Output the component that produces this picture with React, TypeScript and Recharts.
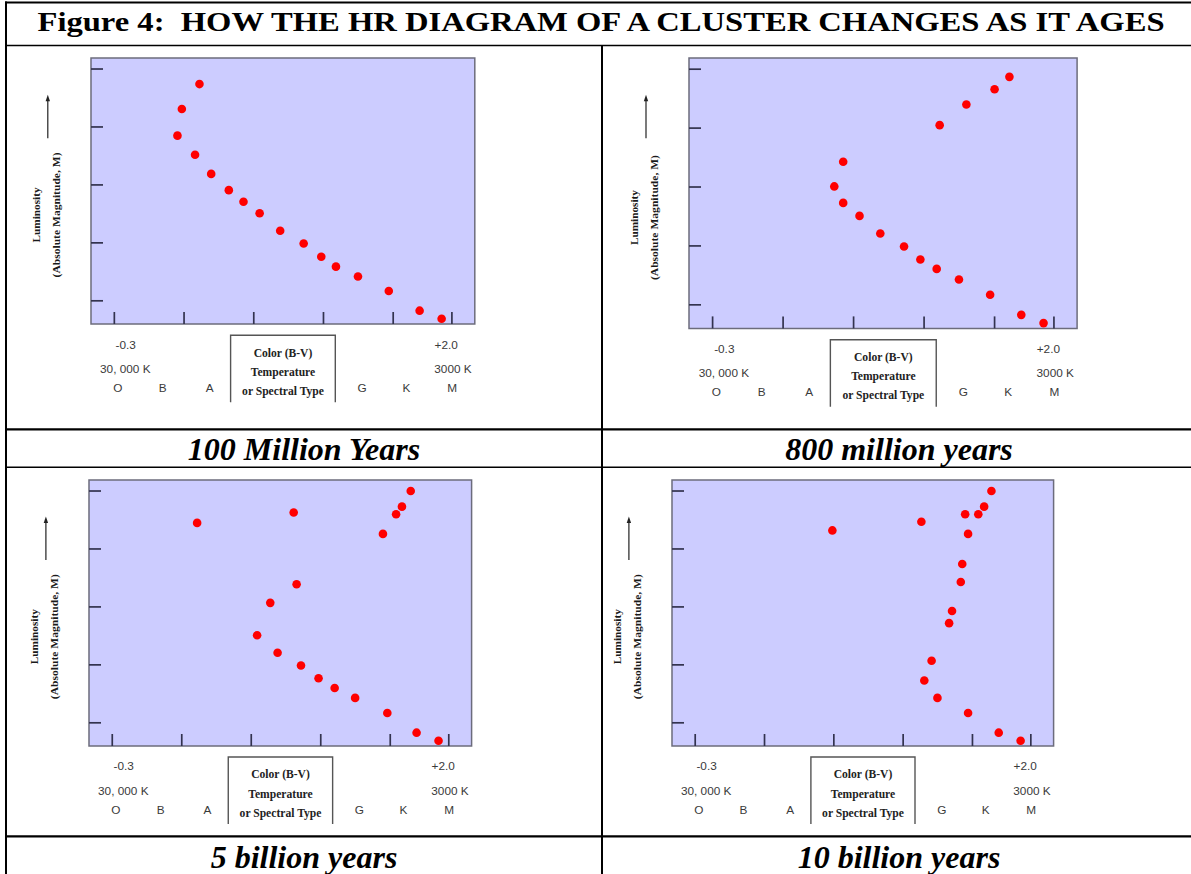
import React from 'react';
import { ScatterChart, Scatter, XAxis, YAxis, CartesianGrid, ReferenceArea } from 'recharts';

// ---------- data ----------
const colorTicks = [-0.3, 0.175, 0.65, 1.125, 1.6, 2.0];
const lumTicks = [0, 1, 2, 3, 4];
const X_DOMAIN: [number, number] = [-0.459, 2.156];
const Y_DOMAIN: [number, number] = [-0.4, 4.19];

const spectralTypes = ['O', 'B', 'A', 'G', 'K', 'M'];
const captions = ['100 Million Years', '800 million years', '5 billion years', '10 billion years'];

const bv100Myr = [0.28, 0.16, 0.13, 0.25, 0.36, 0.48, 0.58, 0.69, 0.83, 0.99, 1.11, 1.21, 1.36, 1.57, 1.78, 1.93];
const lum100Myr = [3.74, 3.31, 2.85, 2.52, 2.19, 1.91, 1.71, 1.51, 1.21, 0.99, 0.76, 0.59, 0.42, 0.17, -0.17, -0.31];

const bv800Myr = [1.7, 1.6, 1.41, 1.23, 0.58, 0.52, 0.58, 0.69, 0.83, 0.99, 1.1, 1.21, 1.36, 1.57, 1.78, 1.93];
const lum800Myr = [3.87, 3.66, 3.4, 3.05, 2.43, 2.01, 1.73, 1.51, 1.21, 0.99, 0.77, 0.61, 0.43, 0.17, -0.17, -0.31];

const bv5Gyr = [1.74, 1.68, 1.64, 1.55, 0.94, 0.28, 0.96, 0.78, 0.69, 0.83, 0.99, 1.11, 1.22, 1.36, 1.58, 1.78, 1.93];
const lum5Gyr = [4.0, 3.73, 3.6, 3.26, 3.63, 3.45, 2.39, 2.07, 1.51, 1.21, 0.99, 0.77, 0.6, 0.43, 0.17, -0.17, -0.31];

const bv10Gyr = [1.73, 1.68, 1.64, 1.55, 1.25, 0.64, 1.57, 1.53, 1.52, 1.46, 1.44, 1.32, 1.27, 1.36, 1.57, 1.78, 1.93];
const lum10Gyr = [4.0, 3.73, 3.6, 3.6, 3.47, 3.32, 3.26, 2.74, 2.43, 1.93, 1.72, 1.07, 0.73, 0.43, 0.17, -0.17, -0.31];

// ---------- style / layout ----------
const PLOT_BG = '#CCCCFF';
const FRAME = '#6c6c7c';
const TICK = '#33334f';
const DOT = '#FF0000';
const LABEL = '#3a3a3a';
const SERIF = '"Liberation Serif", "Times New Roman", serif';
const SANS = '"Liberation Sans", Arial, sans-serif';

type Rect = { L: number; T: number; W: number; H: number };
const panelRects: Rect[] = [
  { L: 90.7, T: 58.3, W: 383.8, H: 266 },
  { L: 688.9, T: 58.3, W: 388.1, H: 270.4 },
  { L: 88.8, T: 480, W: 382.6, H: 266 },
  { L: 671.8, T: 480, W: 381.6, H: 266 },
];
const spectralOffsets = [27.2, 72, 119, 271.5, 315.7, 361.4];
const M = 6;

const toPoints = (bv: number[], lum: number[]) => bv.map((b, i) => ({ bv: b, lum: lum[i] }));
const panelData = [
  toPoints(bv100Myr, lum100Myr),
  toPoints(bv800Myr, lum800Myr),
  toPoints(bv5Gyr, lum5Gyr),
  toPoints(bv10Gyr, lum10Gyr),
];

const renderDot = (p: any) => <circle cx={p.cx} cy={p.cy} r={4.3} fill={DOT} />;
const renderNoLabel = () => <g />;

function HRChart({ rect, data }: { rect: Rect; data: { bv: number; lum: number }[] }) {
  return (
    <div style={{ position: 'absolute', left: rect.L - M, top: rect.T - M }}>
      <ScatterChart width={rect.W + 2 * M} height={rect.H + 2 * M} margin={{ top: M, right: M, bottom: M, left: M }}>
        <CartesianGrid fill={PLOT_BG} fillOpacity={1} horizontal={false} vertical={false} stroke="none" />
        <XAxis
          type="number"
          dataKey="bv"
          domain={X_DOMAIN}
          ticks={colorTicks}
          allowDataOverflow
          mirror
          interval={0}
          tick={renderNoLabel}
          tickSize={12}
          axisLine={false}
          tickLine={{ stroke: TICK, strokeWidth: 1.7 }}
        />
        <YAxis
          type="number"
          dataKey="lum"
          domain={Y_DOMAIN}
          ticks={lumTicks}
          allowDataOverflow
          mirror
          interval={0}
          tick={renderNoLabel}
          tickSize={12}
          axisLine={false}
          tickLine={{ stroke: TICK, strokeWidth: 1.7 }}
        />
        <ReferenceArea
          x1={X_DOMAIN[0]}
          x2={X_DOMAIN[1]}
          y1={Y_DOMAIN[0]}
          y2={Y_DOMAIN[1]}
          fill="none"
          fillOpacity={0}
          stroke={FRAME}
          strokeWidth={1.5}
          ifOverflow="visible"
        />
        <Scatter data={data} isAnimationActive={false} shape={renderDot} />
      </ScatterChart>
    </div>
  );
}

function PanelLabels({ rect }: { rect: Rect }) {
  const { L, T, W, H } = rect;
  const B = T + H;
  const s = W / 383.8;
  const X = (o: number) => L + o * s;
  const cy = T + 0.589 * H;
  const ax = L - 42.9;
  return (
    <g>
      {/* y-axis title */}
      <text
        transform={`translate(${L - 50.9},${cy}) rotate(-90)`}
        textAnchor="middle"
        fontFamily={SERIF}
        fontWeight="bold"
        fontSize={10.5}
        textLength={55}
        lengthAdjust="spacingAndGlyphs"
        fill="#1a1a1a"
      >
        Luminosity
      </text>
      <text
        transform={`translate(${L - 30.6},${cy}) rotate(-90)`}
        textAnchor="middle"
        fontFamily={SERIF}
        fontWeight="bold"
        fontSize={10.5}
        textLength={125}
        lengthAdjust="spacingAndGlyphs"
        fill="#1a1a1a"
      >
        (Absolute Magnitude, M)
      </text>
      <line x1={ax} y1={T + 80} x2={ax} y2={T + 42} stroke="#222" strokeWidth={1.2} />
      <polygon points={`${ax - 2.2},${T + 43} ${ax + 2.2},${T + 43} ${ax},${T + 36.5}`} fill="#222" />

      {/* x labels */}
      <g fontFamily={SANS} fontSize={11.8} fill={LABEL} textAnchor="middle">
        <text x={X(35)} y={B + 24.2}>-0.3</text>
        <text x={X(355.5)} y={B + 24.2}>+2.0</text>
        <text x={X(34.6)} y={B + 48.5}>30, 000 K</text>
        <text x={X(362.3)} y={B + 48.5}>3000 K</text>
        {spectralTypes.map((t, i) => (
          <text key={t} x={X(spectralOffsets[i])} y={B + 67.7}>
            {t}
          </text>
        ))}
      </g>
      <path
        d={`M${X(139.9)},${B + 78} L${X(139.9)},${B + 11} L${X(244.6)},${B + 11} L${X(244.6)},${B + 78}`}
        fill="none"
        stroke="#555"
        strokeWidth={1.4}
      />
      <g fontFamily={SERIF} fontWeight="bold" fontSize={11.6} fill="#222" textAnchor="middle">
        <text x={X(192.3)} y={B + 32.3}>Color (B-V)</text>
        <text x={X(192.3)} y={B + 51.6}>Temperature</text>
        <text x={X(192.3)} y={B + 70.6}>or Spectral Type</text>
      </g>
    </g>
  );
}

export default function App() {
  const captionPos = [
    { x: 304, y: 459.5 },
    { x: 899, y: 459.5 },
    { x: 304, y: 867.5 },
    { x: 899, y: 867.5 },
  ];
  return (
    <div style={{ position: 'absolute', left: 0, top: 0, width: 1191, height: 874, background: '#fff', overflow: 'hidden' }}>
      {panelRects.map((r, i) => (
        <HRChart key={i} rect={r} data={panelData[i]} />
      ))}
      <svg width={1191} height={874} style={{ position: 'absolute', left: 0, top: 0, pointerEvents: 'none' }}>
        {/* table lines */}
        <g stroke="#000" fill="none">
          <line x1={5} y1={2.5} x2={1191} y2={2.5} strokeWidth={2} />
          <line x1={6} y1={1.5} x2={6} y2={874} strokeWidth={2} />
          <line x1={5} y1={45.5} x2={1191} y2={45.5} strokeWidth={1.6} />
          <line x1={602} y1={45} x2={602} y2={874} strokeWidth={2} />
          <line x1={5} y1={429.3} x2={1191} y2={429.3} strokeWidth={2.2} />
          <line x1={5} y1={467.2} x2={1191} y2={467.2} strokeWidth={1.6} />
          <line x1={5} y1={836.3} x2={1191} y2={836.3} strokeWidth={2.2} />
        </g>
        <text
          x={601}
          y={30.5}
          textAnchor="middle"
          fontFamily={SERIF}
          fontWeight="bold"
          fontSize={28}
          textLength={1127}
          lengthAdjust="spacingAndGlyphs"
          fill="#000"
          xmlSpace="preserve"
          style={{ whiteSpace: 'pre' }}
        >
          {'Figure 4:  HOW THE HR DIAGRAM OF A CLUSTER CHANGES AS IT AGES'}
        </text>
        {captions.map((c, i) => (
          <text
            key={c}
            x={captionPos[i].x}
            y={captionPos[i].y}
            textAnchor="middle"
            fontFamily={SERIF}
            fontWeight="bold"
            fontStyle="italic"
            fontSize={32}
            fill="#000"
          >
            {c}
          </text>
        ))}
        {panelRects.map((r, i) => (
          <PanelLabels key={i} rect={r} />
        ))}
      </svg>
    </div>
  );
}
